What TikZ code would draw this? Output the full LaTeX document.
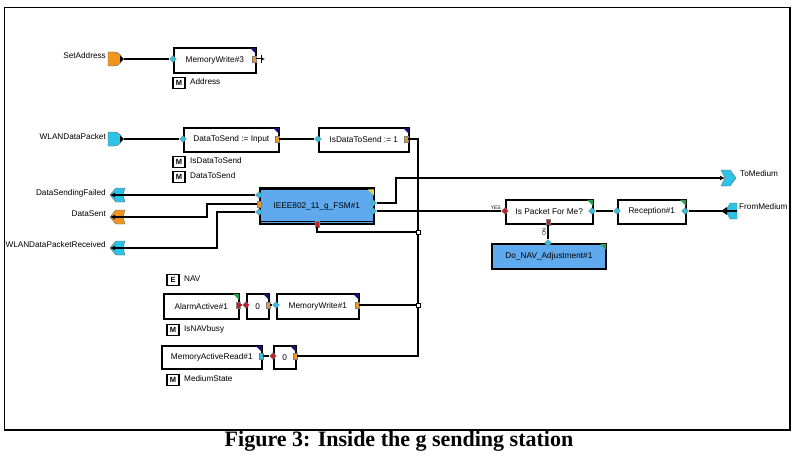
\documentclass[tikz,border=0pt]{standalone}
\usepackage{fontspec}
\setsansfont{Liberation Sans}
\newfontfamily\capfont{Liberation Serif}
\usetikzlibrary{shapes.geometric,arrows.meta}
\definecolor{pcyan}{RGB}{45,195,230}
\definecolor{porange}{RGB}{240,150,30}
\definecolor{pred}{RGB}{190,30,40}
\definecolor{fsmblue}{RGB}{95,170,238}
\definecolor{navyc}{RGB}{20,20,110}
\definecolor{greenc}{RGB}{40,160,80}
\definecolor{yellowc}{RGB}{230,215,60}
\newcommand\blkcorner[2]{\fill[#2] ([shift={(-0.8,0.8)}]#1.north east) -- ++(-6,0) -- ++(6,6) -- cycle;}
\tikzset{
  lab/.style={font=\sffamily\fontsize{8.2}{9}\selectfont, inner sep=0},
  tiny/.style={font=\sffamily\fontsize{5}{6}\selectfont, inner sep=0},
  blk/.style={draw, line width=1.6pt, fill=white, anchor=north west, inner sep=0,
    font=\sffamily\fontsize{8.3}{9}\selectfont},
  memicon/.style={draw, line width=1.1pt, fill=white, inner sep=0, minimum width=12pt,
    minimum height=11pt, font=\sffamily\bfseries\fontsize{7.5}{8}\selectfont},
  inp/.style={diamond, fill=#1, draw=black!50, line width=0.3pt, inner sep=0, minimum size=7pt},
  outp/.style={rectangle, fill=#1, draw=black!50, line width=0.3pt, inner sep=0,
    minimum width=4.5pt, minimum height=6pt},
  junc/.style={rectangle, draw, fill=white, line width=0.8pt, inner sep=0, minimum size=4pt},
  wire/.style={line width=1.2pt},
  arr/.style={line width=1.2pt, -{Latex[length=5pt,width=5pt]}},
  pics/srcport/.style={code={
    \fill[#1, draw=black!60, line width=0.4pt] (0,-7) -- (6,-7) .. controls (11,-7) and (14,-3) .. (14,0)
      .. controls (14,3) and (11,7) .. (6,7) -- (0,7) -- cycle;
    \fill[black] (12,-3.5) -- (16,0) -- (12,3.5) -- cycle;
    \coordinate (-tip) at (16,0);
  }},
  pics/sinkL/.style={code={
    \fill[#1, draw=black!60, line width=0.4pt] (0,0) -- (6,-7) -- (15,-7) -- (13,0) -- (15,7) -- (6,7) -- cycle;
    \coordinate (-tip) at (0,0);
  }},
  pics/sinkR/.style={code={
    \fill[#1, draw=black!60, line width=0.4pt] (0,-8) -- (9,-8) -- (15,0) -- (9,8) -- (0,8) -- (4,0) -- cycle;
    \coordinate (-tip) at (4,0);
  }},
  pics/fromport/.style={code={
    \fill[#1, draw=black!60, line width=0.4pt] (5,0) -- (9,-8) -- (16,-8) -- (16,8) -- (9,8) -- cycle;
    \fill[black] (6,-4) -- (0,0) -- (6,4) -- cycle;
    \coordinate (-tip) at (0,0);
    \coordinate (-in) at (16,0);
  }}
}
\begin{document}
\begin{tikzpicture}[x=1pt,y=-1pt]
\useasboundingbox (0,0) rectangle (800,460);
\fill[white] (0,0) rectangle (800,460);
% frame
\draw[line width=0.9pt] (4,7) rectangle (790,430);
\draw[line width=2.6pt] (790,7) -- (790,430) -- (4,430);
% caption
\node[font=\capfont\bfseries\fontsize{22}{24}\selectfont, inner sep=0] (cap) at (399,441) {Figure 3: Inside the g sending station};

% ---------- top row: SetAddress ----------
\pic (sa) at (108,59) {srcport=porange};
\node[lab, anchor=east] (saL) at (106,56) {SetAddress};
\node[blk, minimum width=82pt, minimum height=25pt] (mw3) at (173,47) {MemoryWrite\#3};
\blkcorner{mw3}{navyc}
\node[inp=pcyan] (mw3i) at (173,59) {};
\node[outp=porange] (mw3o) at (254,59) {};
\coordinate (mw3x) at (265,59);
\draw[wire] (sa-tip) -- (mw3i);
\draw[line width=1pt, -{Latex[length=4pt,width=4pt]}] (mw3o) -- (mw3x);
\draw[line width=1pt] (261,55) -- (261,63);
\node[memicon] (mAddr) at (179,83) {M};
\node[lab, anchor=west] (tAddr) at (190,82) {Address};

% ---------- WLANDataPacket row ----------
\pic (wl) at (108,139) {srcport=pcyan};
\node[lab, anchor=east] (wlL) at (106,137) {WLANDataPacket};
\node[blk, minimum width=95pt, minimum height=24pt] (dts) at (183,127) {DataToSend := Input};
\blkcorner{dts}{navyc}
\node[inp=pcyan] (dtsi) at (183,139) {};
\node[outp=porange] (dtso) at (277,139) {};
\node[blk, minimum width=90pt, minimum height=24pt] (ids) at (318,127) {IsDataToSend := 1};
\blkcorner{ids}{navyc}
\node[inp=pcyan] (idsi) at (318,139) {};
\node[outp=porange] (idso) at (406,139) {};
\draw[wire] (wl-tip) -- (dtsi);
\draw[wire] (dtso) -- (idsi);
\node[memicon] (mIds) at (179,162) {M};
\node[lab, anchor=west] (tIds) at (190,161) {IsDataToSend};
\node[memicon] (mDts) at (179,177) {M};
\node[lab, anchor=west] (tDts) at (190,176) {DataToSend};

% ---------- FSM ----------
\node[blk, fill=fsmblue, minimum width=114pt, minimum height=35pt] (fsm) at (259,188) {IEEE802\_11\_g\_FSM\#1};
\draw[line width=2.6pt] (fsm.north west) -- (fsm.north east);
\draw[line width=1.3pt] ([yshift=3pt]fsm.south west) -- ([yshift=3pt]fsm.south east);
\fill[yellowc] ([shift={(-0.8,1.4)}]fsm.north east) -- ++(-6,0) -- ++(6,6) -- cycle;
\node[inp=pcyan] (fsmA) at (259,195) {};
\node[outp=porange] (fsmB) at (259,204) {};
\node[inp=pcyan] (fsmC) at (259,212) {};
\node[inp=pcyan] (fsmD) at (373,203) {};
\node[inp=pcyan] (fsmE) at (373,211) {};
\node[outp=pred] (fsmF) at (317,224) {};

% sinks on the left
\pic (dsf) at (110,195) {sinkL=pcyan};
\node[lab, anchor=east] (dsfL) at (106,193) {DataSendingFailed};
\pic (dse) at (110,217) {sinkL=porange};
\node[lab, anchor=east] (dseL) at (106,214) {DataSent};
\pic (wpr) at (110,248) {sinkL=pcyan};
\node[lab, anchor=east] (wprL) at (106,245) {WLANDataPacketReceived};
\draw[arr] (fsmA) -- (dsf-tip);
\draw[arr] (fsmB) -- (207,204) -- (207,217) -- (dse-tip);
\draw[arr] (fsmC) -- (217,212) -- (217,248) -- (wpr-tip);

% ToMedium / FromMedium
\pic (tom) at (721,178) {sinkR=pcyan};
\node[lab, anchor=west] (tomL) at (740,174) {ToMedium};
\pic (frm) at (721,211) {fromport=pcyan};
\node[lab, anchor=west] (frmL) at (739,207) {FromMedium};
\draw[arr] (fsmD) -- (396,203) -- (396,178) -- (tom-tip);

% right side blocks
\node[blk, minimum width=87pt, minimum height=24pt] (ipfm) at (505,199) {Is Packet For Me?};
\blkcorner{ipfm}{greenc}
\node[inp=pred] (ipfmi) at (505,211) {};
\node[inp=pcyan] (ipfmo) at (592,211) {};
\node[outp=pred] (ipfmn) at (548,222) {};
\node[tiny, anchor=east] (yesL) at (501,208) {YES};
\node[blk, minimum width=68pt, minimum height=24pt] (rec) at (617,199) {Reception\#1};
\blkcorner{rec}{greenc}
\node[inp=pcyan] (reci) at (617,211) {};
\node[inp=pcyan] (reco) at (685,211) {};
\node[blk, fill=fsmblue, line width=1.8pt, minimum width=114pt, minimum height=25pt] (dna) at (491,243) {Do\_NAV\_Adjustment\#1};
\blkcorner{dna}{greenc}
\node[inp=pcyan] (dnai) at (548,243) {};
\draw[wire] (fsmE) -- (ipfmi);
\draw[wire] (ipfmo) -- (reci);
\draw[wire] (reco) -- (frm-in);
\draw[wire] (ipfmn) -- (dnai);
\node[tiny, rotate=-90] (noL) at (544,232) {NO};

% ---------- bottom section ----------
\node[memicon] (eNav) at (173,280) {E};
\node[lab, anchor=west] (tNav) at (184,279) {NAV};
\node[blk, minimum width=75pt, minimum height=25pt] (aa) at (163,293) {AlarmActive\#1};
\blkcorner{aa}{greenc}
\node[outp=pred] (aao) at (238,305) {};
\node[blk, minimum width=22pt, minimum height=25pt] (z1) at (246,293) {0};
\blkcorner{z1}{navyc}
\node[inp=pred] (z1i) at (246,305) {};
\node[outp=porange] (z1o) at (268,305) {};
\node[blk, minimum width=82pt, minimum height=25pt] (mw1) at (276,293) {MemoryWrite\#1};
\blkcorner{mw1}{navyc}
\node[inp=pcyan] (mw1i) at (276,305) {};
\node[outp=porange] (mw1o) at (357,305) {};
\draw[line width=1.2pt, pred] (aao) -- (z1i);
\draw[wire] (z1o) -- (mw1i);
\node[memicon] (mNav) at (173,330) {M};
\node[lab, anchor=west] (tNavb) at (184,329) {IsNAVbusy};

\node[blk, minimum width=100pt, minimum height=23pt] (mar) at (161,345) {MemoryActiveRead\#1};
\blkcorner{mar}{navyc}
\node[outp=pcyan] (maro) at (261,356) {};
\node[blk, minimum width=22pt, minimum height=23pt] (z2) at (273,345) {0};
\blkcorner{z2}{navyc}
\node[inp=pred] (z2i) at (273,356) {};
\node[outp=porange] (z2o) at (295,356) {};
\draw[wire] (maro) -- (z2i);
\node[memicon] (mMed) at (173,380) {M};
\node[lab, anchor=west] (tMed) at (184,379) {MediumState};

% ---------- bus on the right ----------
\node[junc] (j1) at (418,232) {};
\node[junc] (j2) at (418,305) {};
\draw[wire] (idso) -- (418,139) -- (j1) -- (j2) -- (418,356) -- (z2o);
\draw[wire] (fsmF) -- (317,232) -- (j1);
\draw[wire] (mw1o) -- (j2);
\end{tikzpicture}
\end{document}
